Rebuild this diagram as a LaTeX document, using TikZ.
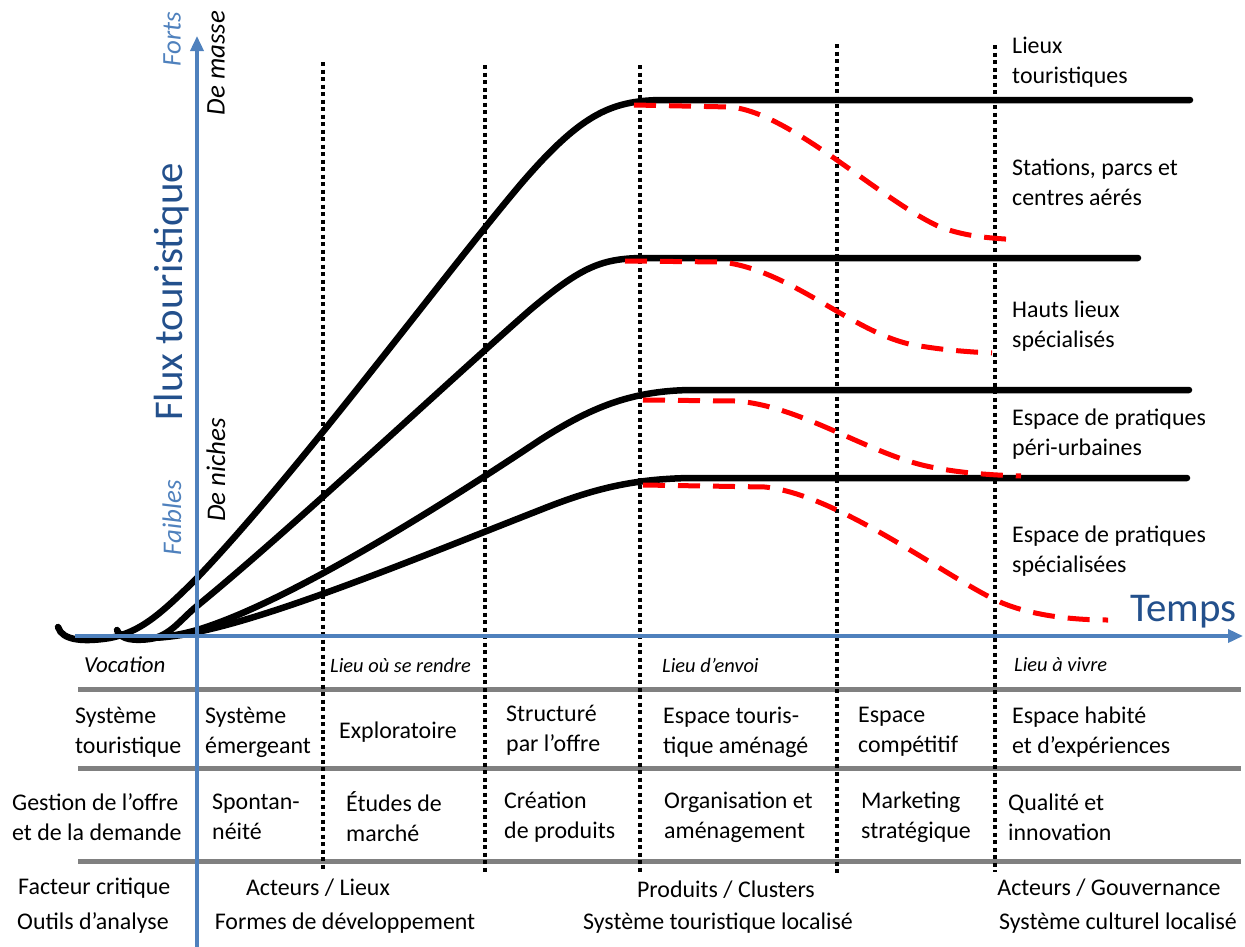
\documentclass[tikz,border=0pt]{standalone}
\usepackage{fontspec}
\setmainfont{Carlito}
\usetikzlibrary{arrows.meta}
\definecolor{axisblue}{HTML}{4F81BD}
\definecolor{darkblue}{HTML}{23508C}
\definecolor{rowgray}{HTML}{808080}
\definecolor{trendred}{HTML}{FF0000}
\begin{document}
\begin{tikzpicture}[x=1bp,y=-1bp,
  curve/.style={line width=6.5bp, black, line cap=round, line join=round},
  trend/.style={line width=5bp, trendred, dash pattern=on 22bp off 13bp},
  divider/.style={line width=4bp, black, dash pattern=on 4bp off 3.5bp},
  rowline/.style={line width=5bp, rowgray},
  axis/.style={line width=3.5bp, axisblue, -{Triangle[length=15bp,width=13bp]}},
  txt/.style={font=\fontsize{24}{30}\selectfont, anchor=west, align=left, inner sep=0pt},
  ctxt/.style={font=\fontsize{24}{30}\selectfont, anchor=center, inner sep=0pt},
  vocab/.style={font=\fontsize{20.5}{24}\selectfont\itshape, anchor=west, inner sep=0pt},
  axlab/.style={font=\fontsize{27}{30}\selectfont\itshape, rotate=90, inner sep=0pt},
  bigblue/.style={font=\fontsize{41}{48}\selectfont, darkblue, inner sep=0pt}
]
\useasboundingbox (0,0) rectangle (1245,947);

% table rows
\draw[rowline] (78,689) -- (1241,689);
\draw[rowline] (78,768) -- (1241,768);
\draw[rowline] (78,861) -- (1241,861);

% black growth curves
\draw[curve] (58,627) .. controls (62,641) and (85,642) .. (110,638)
  .. controls (140,632) and (160,615) .. (197,578)
  .. controls (300,470) and (440,280) .. (520,185)
  .. controls (580,115) and (610,101) .. (660,100) -- (1190,100);
\draw[curve] (117,630) .. controls (120,640) and (135,641) .. (150,639)
  .. controls (170,636) and (180,620) .. (197,606)
  .. controls (290,530) and (450,380) .. (530,310)
  .. controls (580,268) and (600,259) .. (640,258) -- (1138,258);
\draw[curve] (120,634) .. controls (135,641) and (170,638) .. (197,630)
  .. controls (280,605) and (420,520) .. (540,440)
  .. controls (590,408) and (630,391) .. (690,390) -- (1189,390);
\draw[curve] (120,634) .. controls (135,641) and (170,638) .. (197,632)
  .. controls (280,615) and (420,557) .. (540,510)
  .. controls (590,490) and (630,479) .. (690,478) -- (1187,478);

% vertical dotted dividers
\draw[divider] (323,62) -- (323,870);
\draw[divider] (485,65) -- (485,873);
\draw[divider] (640,65) -- (640,875);
\draw[divider] (837,44) -- (837,873);
\draw[divider] (995,45) -- (995,872);

% red dashed decline curves
\draw[trend] (634,105) -- (730,107) .. controls (790,112) and (880,200) .. (940,227) .. controls (970,238) and (995,238) .. (1018,240);
\draw[trend] (625,261) -- (722,262) .. controls (790,270) and (850,330) .. (909,344) .. controls (940,350) and (970,352) .. (992,353);
\draw[trend] (643,400) -- (735,401) .. controls (800,405) and (870,455) .. (931,467) .. controls (960,473) and (990,475) .. (1021,476);
\draw[trend] (643,485) -- (765,487) .. controls (840,495) and (950,580) .. (1000,602) .. controls (1030,615) and (1070,620) .. (1108,620);

% axes
\draw[axis] (75,636) -- (1243,636);
\draw[axis] (197,947) -- (197,36);

% axis labels
\node[axlab, axisblue] (forts) at (172,39) {Forts};
\node[axlab, axisblue] (faibles) at (172,518) {Faibles};
\node[bigblue, rotate=90] (flux) at (172,292) {Flux touristique};
\node[axlab] (masse) at (216,63) {De masse};
\node[axlab] (niches) at (216,470) {De niches};
\node[bigblue, anchor=west] (temps) at (1130,612) {Temps};

% right-hand labels
\node[txt] (l1) at (1012,62) {Lieux\\touristiques};
\node[txt] (l2) at (1012,182) {Stations, parcs et\\centres aérés};
\node[txt] (l3) at (1012,326) {Hauts lieux\\spécialisés};
\node[txt] (l4) at (1012,434) {Espace de pratiques\\péri-urbaines};
\node[txt] (l5) at (1012,551) {Espace de pratiques\\spécialisées};

% row 0: vocation
\node[vocab, font=\fontsize{23}{28}\selectfont\itshape] (voc) at (84,665) {Vocation};
\node[vocab] (v1) at (330,665) {Lieu où se rendre};
\node[vocab] (v2) at (662,665) {Lieu d’envoi};
\node[vocab] (v3) at (1014,665) {Lieu à vivre};

% row 1: système touristique
\node[txt] (s0) at (75,732) {Système\\touristique};
\node[txt] (s1) at (205,732) {Système\\émergeant};
\node[txt] (s2) at (339,732) {Exploratoire};
\node[txt] (s3) at (506,730) {Structuré\\par l’offre};
\node[txt] (s4) at (663,732) {Espace touris-\\tique aménagé};
\node[txt] (s5) at (858,732) {Espace\\compétitif};
\node[txt] (s6) at (1012,732) {Espace habité\\et d’expériences};

% row 2: gestion
\node[txt] (g0) at (12,817) {Gestion de l’offre\\et de la demande};
\node[txt] (g1) at (212,817) {Spontan-\\néité};
\node[txt] (g2) at (346,817) {Études de\\marché};
\node[txt] (g3) at (504,817) {Création\\de produits};
\node[txt] (g4) at (664,817) {Organisation et\\aménagement};
\node[txt] (g5) at (861,817) {Marketing\\stratégique};
\node[txt] (g6) at (1008,817) {Qualité et\\innovation};

% row 3: facteurs / outils
\node[txt] (f0) at (18,888) {Facteur critique};
\node[txt] (o0) at (17,923) {Outils d’analyse};
\node[ctxt] (f1) at (318,888) {Acteurs / Lieux};
\node[ctxt] (o1) at (345,923) {Formes de développement};
\node[ctxt] (f2) at (726,890) {Produits / Clusters};
\node[ctxt] (o2) at (718,923) {Système touristique localisé};
\node[ctxt] (f3) at (1109,888) {Acteurs / Gouvernance};
\node[ctxt] (o3) at (1118,923) {Système culturel localisé};
\end{tikzpicture}
\end{document}
